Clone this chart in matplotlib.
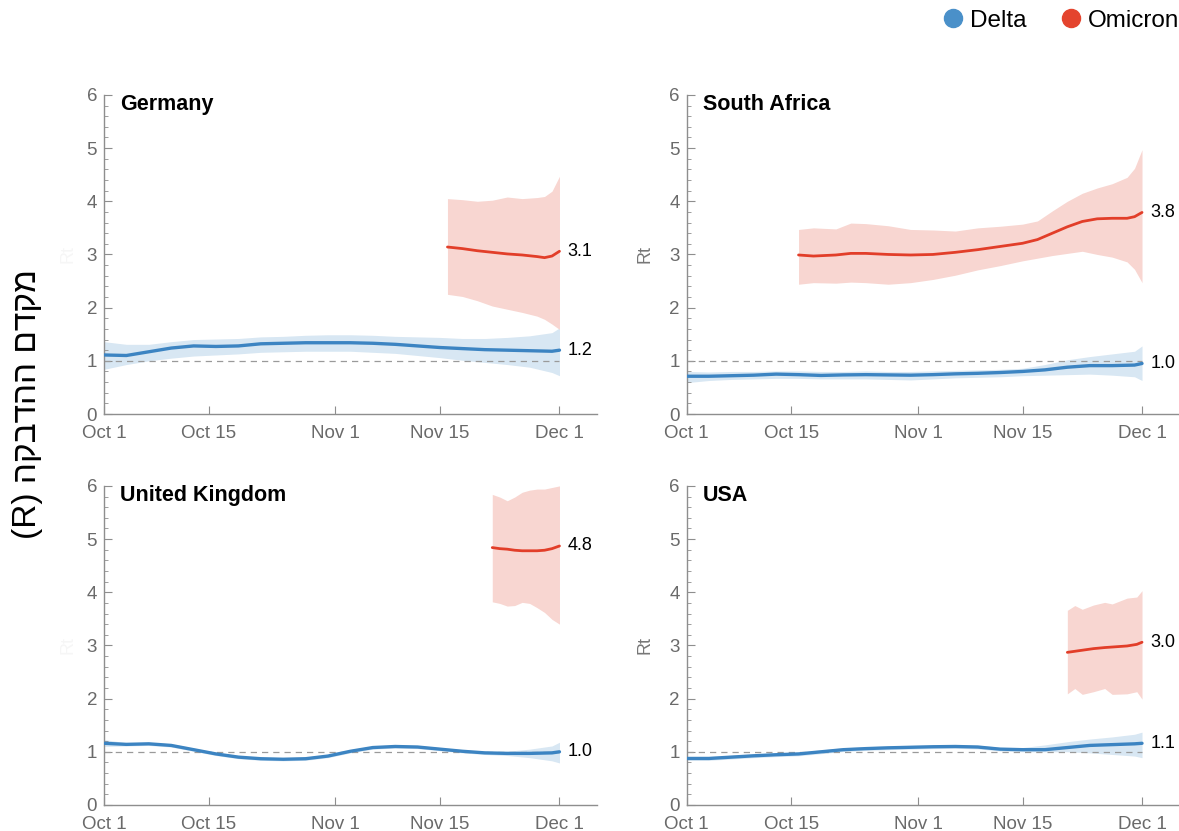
import matplotlib
matplotlib.use("Agg")
import matplotlib.pyplot as plt
from matplotlib.ticker import MultipleLocator
from matplotlib.lines import Line2D

# days counted from Oct 1
tick_days = [0, 14, 31, 45, 61]
tick_labels = ["Oct 1", "Oct 15", "Nov 1", "Nov 15", "Dec 1"]
countries = ["Germany", "South Africa", "United Kingdom", "USA"]

# Delta, all countries share one day grid
delta_days = [0, 3, 6, 9, 12, 15, 18, 21, 24, 27, 30, 33, 36, 39, 42, 45, 48, 51, 54, 57, 60, 61]

germany_delta = [1.11, 1.10, 1.17, 1.24, 1.28, 1.27, 1.28, 1.32, 1.33, 1.34, 1.34, 1.34, 1.33, 1.31, 1.28, 1.25, 1.23, 1.21, 1.20, 1.19, 1.18, 1.20]
germany_delta_hi = [1.36, 1.31, 1.31, 1.36, 1.40, 1.41, 1.42, 1.45, 1.46, 1.48, 1.49, 1.49, 1.48, 1.46, 1.45, 1.44, 1.42, 1.42, 1.44, 1.47, 1.53, 1.62]
germany_delta_lo = [0.84, 0.93, 1.00, 1.05, 1.09, 1.11, 1.13, 1.16, 1.17, 1.18, 1.18, 1.18, 1.16, 1.14, 1.10, 1.06, 1.01, 0.97, 0.93, 0.88, 0.78, 0.72]

safrica_delta = [0.71, 0.71, 0.72, 0.73, 0.75, 0.74, 0.725, 0.735, 0.74, 0.735, 0.73, 0.74, 0.755, 0.765, 0.78, 0.80, 0.83, 0.88, 0.91, 0.91, 0.92, 0.95]
safrica_delta_hi = [0.80, 0.79, 0.80, 0.80, 0.81, 0.81, 0.80, 0.80, 0.81, 0.80, 0.80, 0.81, 0.82, 0.83, 0.84, 0.86, 0.93, 1.02, 1.08, 1.13, 1.18, 1.28]
safrica_delta_lo = [0.59, 0.63, 0.65, 0.66, 0.67, 0.67, 0.66, 0.66, 0.66, 0.65, 0.64, 0.66, 0.68, 0.69, 0.70, 0.72, 0.73, 0.74, 0.75, 0.73, 0.70, 0.63]

uk_delta = [1.16, 1.14, 1.15, 1.12, 1.04, 0.96, 0.90, 0.87, 0.86, 0.87, 0.92, 1.01, 1.08, 1.10, 1.09, 1.05, 1.01, 0.98, 0.97, 0.97, 0.98, 1.00]
uk_delta_hi = [1.23, 1.17, 1.18, 1.15, 1.07, 0.99, 0.93, 0.90, 0.89, 0.90, 0.95, 1.04, 1.11, 1.13, 1.12, 1.08, 1.04, 1.01, 1.01, 1.05, 1.11, 1.18]
uk_delta_lo = [1.10, 1.11, 1.12, 1.09, 1.01, 0.93, 0.87, 0.84, 0.83, 0.84, 0.89, 0.98, 1.05, 1.07, 1.06, 1.02, 0.98, 0.95, 0.93, 0.89, 0.83, 0.79]

usa_delta = [0.875, 0.875, 0.90, 0.925, 0.945, 0.96, 1.00, 1.04, 1.06, 1.075, 1.085, 1.095, 1.10, 1.09, 1.05, 1.04, 1.04, 1.08, 1.12, 1.135, 1.15, 1.16]
usa_delta_hi = [0.91, 0.91, 0.935, 0.96, 0.98, 0.995, 1.035, 1.075, 1.095, 1.11, 1.12, 1.13, 1.135, 1.125, 1.085, 1.08, 1.13, 1.19, 1.24, 1.28, 1.33, 1.37]
usa_delta_lo = [0.84, 0.84, 0.865, 0.89, 0.91, 0.925, 0.965, 1.005, 1.025, 1.04, 1.05, 1.06, 1.065, 1.055, 1.015, 1.00, 1.00, 1.00, 0.98, 0.95, 0.92, 0.89]

# Omicron, each country has its own start
germany_omi_days = [46, 48, 50, 52, 54, 56, 58, 59, 60, 61]
germany_omi = [3.14, 3.11, 3.07, 3.04, 3.01, 2.99, 2.96, 2.94, 2.97, 3.06]
germany_omi_hi = [4.05, 4.03, 4.00, 4.02, 4.08, 4.05, 4.07, 4.09, 4.19, 4.47]
germany_omi_lo = [2.25, 2.21, 2.13, 2.03, 1.97, 1.91, 1.84, 1.78, 1.69, 1.59]

safrica_omi_days = [15, 17, 20, 22, 24, 27, 30, 33, 36, 39, 42, 45, 47, 49, 51, 53, 55, 57, 59, 60, 61]
safrica_omi = [2.99, 2.97, 2.99, 3.02, 3.02, 3.00, 2.99, 3.00, 3.04, 3.09, 3.15, 3.21, 3.28, 3.40, 3.52, 3.62, 3.67, 3.68, 3.68, 3.71, 3.79]
safrica_omi_hi = [3.47, 3.50, 3.48, 3.59, 3.58, 3.54, 3.47, 3.46, 3.44, 3.50, 3.53, 3.57, 3.63, 3.82, 4.00, 4.15, 4.25, 4.33, 4.45, 4.62, 4.97]
safrica_omi_lo = [2.44, 2.47, 2.46, 2.48, 2.47, 2.44, 2.47, 2.53, 2.61, 2.71, 2.79, 2.88, 2.93, 2.98, 3.02, 3.06, 3.00, 2.95, 2.86, 2.72, 2.47]

uk_omi_days = [52, 53, 54, 55, 56, 57, 58, 59, 60, 61]
uk_omi = [4.84, 4.82, 4.81, 4.79, 4.78, 4.78, 4.78, 4.79, 4.82, 4.87]
uk_omi_hi = [5.84, 5.79, 5.72, 5.79, 5.88, 5.92, 5.94, 5.94, 5.97, 6.00]
uk_omi_lo = [3.82, 3.79, 3.74, 3.75, 3.81, 3.79, 3.71, 3.62, 3.49, 3.40]

usa_omi_days = [51, 52, 53, 54.5, 56, 57, 59, 60.3, 61]
usa_omi = [2.87, 2.89, 2.91, 2.94, 2.96, 2.97, 2.99, 3.02, 3.06]
usa_omi_hi = [3.66, 3.75, 3.68, 3.76, 3.81, 3.78, 3.89, 3.91, 4.03]
usa_omi_lo = [2.09, 2.19, 2.08, 2.13, 2.19, 2.08, 2.09, 2.13, 1.99]

# printed end values
omi_end_labels = ["3.1", "3.8", "4.8", "3.0"]
delta_end_labels = ["1.2", "1.0", "1.0", "1.1"]

ylabel_text = "מקדם ההדבקה (R)"

delta_all = [(germany_delta, germany_delta_lo, germany_delta_hi),
             (safrica_delta, safrica_delta_lo, safrica_delta_hi),
             (uk_delta, uk_delta_lo, uk_delta_hi),
             (usa_delta, usa_delta_lo, usa_delta_hi)]
omi_all = [(germany_omi_days, germany_omi, germany_omi_lo, germany_omi_hi),
           (safrica_omi_days, safrica_omi, safrica_omi_lo, safrica_omi_hi),
           (uk_omi_days, uk_omi, uk_omi_lo, uk_omi_hi),
           (usa_omi_days, usa_omi, usa_omi_lo, usa_omi_hi)]

BLUE = "#3c84c2"
BLUE_BAND = "#d8e7f3"
RED = "#e23e29"
RED_BAND = "#f8d6d1"
GREY = "#8e8e8e"
TICKTXT = "#6a6a6a"

plt.rcParams["font.family"] = ["Liberation Sans", "DejaVu Sans"]


def visual_rtl(s):
    # matplotlib has no bidi support: reverse word order and hebrew words
    out = []
    for w in reversed(s.split(" ")):
        if any("\u0590" <= c <= "\u05ff" for c in w):
            w = w[::-1]
        out.append(w)
    return " ".join(out)


fig = plt.figure(figsize=(11.79, 8.31), dpi=100)

w = 0.418
h = 0.384
boxes = [[0.0882, 0.5018, w, h], [0.5823, 0.5018, w, h],
         [0.0882, 0.0313, w, h], [0.5823, 0.0313, w, h]]

for i, name in enumerate(countries):
    ax = fig.add_axes(boxes[i])
    d_mid, d_lo, d_hi = delta_all[i]
    o_days, o_mid, o_lo, o_hi = omi_all[i]

    ax.fill_between(delta_days, d_lo, d_hi, color=BLUE_BAND, lw=0, zorder=1)
    ax.fill_between(o_days, o_lo, o_hi, color=RED_BAND, lw=0, zorder=1)
    ax.plot([0, 61], [1, 1], ls=(0, (5, 4)), color="#9a9a9a", lw=0.9, zorder=2)
    ax.plot(delta_days, d_mid, color=BLUE, lw=2.4, zorder=3, solid_capstyle="round",
            solid_joinstyle="round")
    ax.plot(o_days, o_mid, color=RED, lw=2.0, zorder=3, solid_capstyle="round",
            solid_joinstyle="round")

    ax.annotate(omi_end_labels[i], (o_days[-1], o_mid[-1]), xytext=(6, 0),
                textcoords="offset points", va="center", ha="left", fontsize=13)
    ax.annotate(delta_end_labels[i], (delta_days[-1], d_mid[-1]), xytext=(6, 0),
                textcoords="offset points", va="center", ha="left", fontsize=13)

    ax.text(0.033, 0.97, name, transform=ax.transAxes, fontsize=15.5,
            fontweight="bold", va="center", ha="left")

    ax.set_xlim(0, 66)
    ax.set_ylim(0, 6)
    ax.set_xticks(tick_days)
    ax.set_xticklabels(tick_labels)
    ax.set_yticks(range(7))
    ax.yaxis.set_minor_locator(MultipleLocator(0.2))
    for s in ["top", "right"]:
        ax.spines[s].set_visible(False)
    for s in ["left", "bottom"]:
        ax.spines[s].set_color(GREY)
        ax.spines[s].set_linewidth(1.0)
    ax.tick_params(axis="both", which="both", direction="in", color=GREY,
                   labelcolor=TICKTXT, labelsize=13.5)
    ax.tick_params(axis="both", which="major", length=6)
    ax.tick_params(axis="y", which="minor", length=3)
    ax.tick_params(axis="y", pad=5)
    ax.tick_params(axis="x", pad=8)

    if i % 2 == 1:
        ax.text(-0.084, 0.5, "Rt", transform=ax.transAxes, rotation=90,
                ha="center", va="center", fontsize=13, color="#777777")
    else:
        # left panels only keep a faded trace of the original axis title
        ax.text(-0.073, 0.5, "Rt", transform=ax.transAxes, rotation=90,
                ha="center", va="center", fontsize=13, color="#f6f6f6")

fig.text(0.023, 0.514, visual_rtl(ylabel_text), rotation=90, ha="center",
         va="center", fontsize=24, color="black")

handles = [Line2D([0], [0], marker="o", color="#4a90c9", markersize=13, linestyle="none", label="Delta"),
           Line2D([0], [0], marker="o", color="#e4442e", markersize=13, linestyle="none", label="Omicron")]
fig.legend(handles=handles, loc="center right", bbox_to_anchor=(1.0, 0.975), ncol=2,
           frameon=False, fontsize=17.5, handlelength=0.8, handletextpad=0.3,
           columnspacing=1.4, borderpad=0, borderaxespad=0)

fig.savefig("out.png", dpi=100)
